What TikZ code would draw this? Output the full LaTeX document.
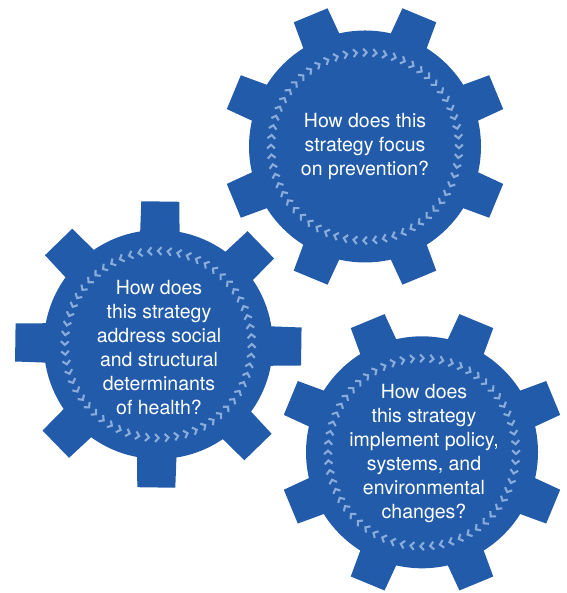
\documentclass[tikz,border=0pt]{standalone}
\usepackage{fontspec}
\setmainfont{TeX Gyre Heros}
\definecolor{gearblue}{HTML}{225BAA}
\definecolor{chevblue}{HTML}{8AACDB}
\tikzset{
  gearfill/.style={fill=gearblue},
  chev/.style={draw=chevblue, line width=2.1pt, line cap=butt, line join=miter},
  qtext/.style={text=white, align=center, inner sep=0pt,
    font=\fontsize{19.5}{24}\selectfont},
}
\newcommand{\mygear}[4]{% cx, cy, rotation, direction (+1 cw, -1 ccw)
  \begin{scope}[shift={(#1,#2)}, rotate=#3]
    \fill[gearfill] (0,0) circle (116);
    \foreach \a in {22.5,67.5,...,337.5}
      \fill[gearfill, rotate=\a] (-20,100) -- (20,100) -- (18.3,142) -- (-18.3,142) -- cycle;
    \foreach \t in {0,6,...,354}
      \draw[chev, rotate=\t, shift={(94,0)}] (-3.9,1.9*#4) -- (0,-1.7*#4) -- (3.9,1.9*#4);
  \end{scope}}
\newcommand{\mygearB}[4]{% axis-aligned teeth
  \begin{scope}[shift={(#1,#2)}, rotate=#3]
    \fill[gearfill] (0,0) circle (114.5);
    \foreach \a in {0,45,...,315}
      \fill[gearfill, rotate=\a] (-20,100) -- (20,100) -- (19,143) -- (-19,143) -- cycle;
    \foreach \t in {0,6,...,354}
      \draw[chev, rotate=\t, shift={(93.5,0)}] (-3.9,1.9*#4) -- (0,-1.7*#4) -- (3.9,1.9*#4);
  \end{scope}}
\begin{document}
\begin{tikzpicture}[x=1pt,y=1pt]
\useasboundingbox (0,0) rectangle (566,593);
% gear 1 (top)
\mygear{365}{446.5}{0}{1}
\node[qtext] (q1) at (365,446) {How does this\\strategy focus\\on prevention?};
% gear 2 (left)
\mygearB{158.3}{248.5}{-0.8}{-1}
\node[qtext] (q2) at (159,245.5) {How does\\this strategy\\address social\\and structural\\determinants\\of health?};
% gear 3 (bottom right)
\mygear{422}{140.7}{0}{1}
\node[qtext] (q3) at (424,139) {How does\\this strategy\\implement policy,\\systems, and\\environmental\\changes?};
\end{tikzpicture}
\end{document}
